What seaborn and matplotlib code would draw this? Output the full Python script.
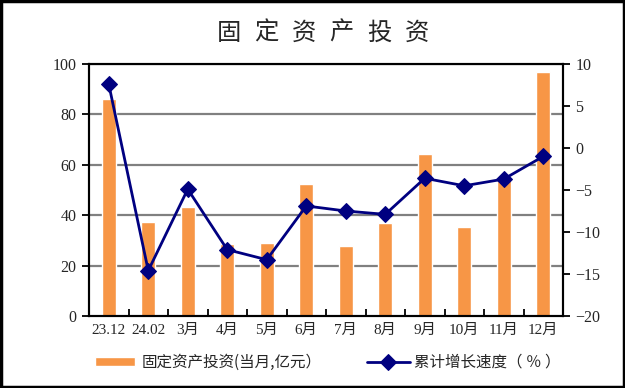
import numpy as np
import pandas as pd
import matplotlib
matplotlib.use("Agg")
import matplotlib.pyplot as plt
import seaborn as sns
from matplotlib.patches import Rectangle

categories = ["23.12", "24.02", "3月", "4月", "5月", "6月", "7月", "8月", "9月", "10月", "11月", "12月"]
investment = [86.1, 37.3, 43.3, 28.6, 29.0, 52.4, 27.8, 36.9, 64.3, 35.3, 54.4, 96.8]
growth = [7.6, -14.6, -4.9, -12.1, -13.3, -6.9, -7.5, -7.9, -3.6, -4.5, -3.7, -1.0]
left_ticks = [0, 20, 40, 60, 80, 100]
right_ticks = [-20, -15, -10, -5, 0, 5, 10]
title_chars = ["固", "定", "资", "产", "投", "资"]
bar_label = "固定资产投资(当月,亿元）"
line_label = "累计增长速度（ ％ ）"

sns.set_theme(style="white")
fonts = ["Liberation Serif", "Noto Sans CJK SC", "DejaVu Sans"]
plt.rcParams["font.family"] = fonts

df = pd.DataFrame({"cat": categories, "inv": investment, "gr": growth, "pos": np.arange(len(categories))})

W, H = 625, 388
fig = plt.figure(figsize=(6.25, 3.88), dpi=100)
fig.patch.set_facecolor("white")
fig.patches.append(Rectangle((0.002, 0.003), 0.996, 0.994, transform=fig.transFigure,
                             fill=False, edgecolor="black", linewidth=2.5, zorder=10))
ax = fig.add_axes([89 / W, 1 - 316 / H, (563 - 89) / W, (316 - 64) / H])

sns.barplot(data=df, x="pos", y="inv", ax=ax, color="#F79646", width=0.36,
            saturation=1, label=bar_label, zorder=2, native_scale=True)
ax.set_xlim(-0.5, len(categories) - 0.5)
ax.set_ylim(0, 100)
ax.set_yticks(left_ticks)
for t in left_ticks[1:]:
    ax.axhline(t, color="#808080", linewidth=1.6, zorder=1)
ax.set_xticks(np.arange(len(categories)))
ax.set_xticklabels(categories, fontsize=11)
ax.set_xticks(np.arange(len(categories) - 1) + 0.5, minor=True)
ax.tick_params(axis="x", which="major", length=0, pad=6)
ax.tick_params(axis="x", which="minor", direction="in", length=5, width=1.3, color="black", bottom=True)
ax.tick_params(axis="y", direction="out", length=5, width=1.3, color="black", left=True, labelsize=11.5, pad=4)
ax.set_xlabel("")
ax.set_ylabel("")
for s in ax.spines.values():
    s.set_color("black")
    s.set_linewidth(1.5)

ax2 = ax.twinx()
sns.lineplot(data=df, x="pos", y="gr", ax=ax2, color="#000080", linewidth=2,
             marker="D", markersize=8, markeredgecolor="#000080", label=line_label, sort=False)
ax2.set_ylim(-20, 10)
ax2.set_yticks(right_ticks)
ax2.tick_params(axis="y", direction="out", length=5, width=1.3, color="black", right=True, labelsize=11.5, pad=4)
ax2.set_ylabel("")
ax2.set_xlabel("")
for s in ax2.spines.values():
    s.set_color("black")
    s.set_linewidth(1.5)
ax2.set_xlim(-0.5, len(categories) - 0.5)

h1, l1 = ax.get_legend_handles_labels()
h2, l2 = ax2.get_legend_handles_labels()
if ax.get_legend():
    ax.get_legend().remove()
if ax2.get_legend():
    ax2.get_legend().remove()
leg1 = fig.legend(h1, l1, loc="center left", bbox_to_anchor=(95 / W, 1 - 362.5 / H), frameon=False,
                  prop={"family": ["Noto Sans CJK SC"], "size": 11.2},
                  handlelength=2.55, handleheight=0.45, handletextpad=0.45,
                  borderpad=0, borderaxespad=0)
leg2 = fig.legend(h2, l2, loc="center left", bbox_to_anchor=(367 / W, 1 - 362.5 / H), frameon=False,
                  prop={"family": ["Noto Sans CJK SC"], "size": 11.2},
                  handlelength=2.75, handletextpad=0.3, borderpad=0, borderaxespad=0)

x0, x1 = 229, 417
for i, ch in enumerate(title_chars):
    x = x0 + (x1 - x0) * i / (len(title_chars) - 1)
    fig.text(x / W, 1 - 33 / H, ch, ha="center", va="center", fontsize=17.5, family=["Noto Sans CJK SC"])

fig.savefig("out.png", dpi=100)
